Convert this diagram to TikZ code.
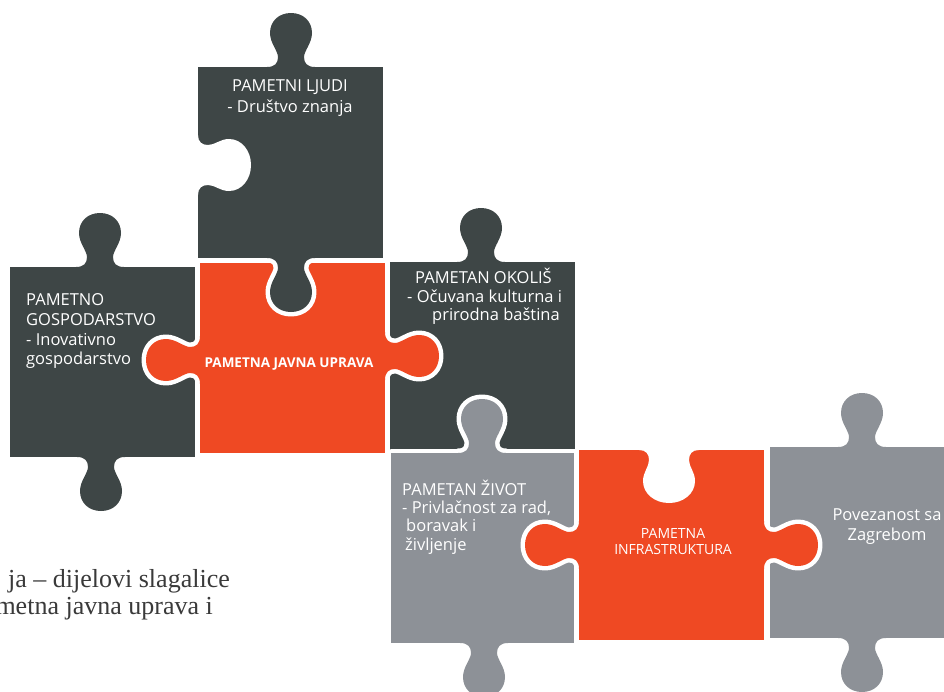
\documentclass[tikz,border=0pt]{standalone}
\usepackage{fontspec}
\newfontfamily\pzsans{Open Sans}
\newfontfamily\pzserif{Liberation Serif}
\definecolor{pzdark}{RGB}{62,70,70}
\definecolor{pzorange}{RGB}{239,73,35}
\definecolor{pzgray}{RGB}{141,145,151}
\definecolor{pzcap}{RGB}{58,58,58}
\newcommand\pzknobpath{(-24,0) .. controls (-16,0) and (-13,4) .. (-13,10) .. controls (-13,16) and (-21,24) .. (-21,34) .. controls (-21,46) and (-12,54) .. (0,54) .. controls (12,54) and (21,46) .. (21,34) .. controls (21,24) and (13,16) .. (13,10) .. controls (13,4) and (16,0) .. (24,0) -- cycle}
\newcommand\pzholepath{(-30,-4) -- (-30,0) .. controls (-23,0) and (-20,4) .. (-20,10) .. controls (-20,17) and (-26,22) .. (-26,31) .. controls (-26,44) and (-14,53) .. (0,53) .. controls (14,53) and (26,44) .. (26,31) .. controls (26,22) and (20,17) .. (20,10) .. controls (20,4) and (23,0) .. (30,0) -- (30,-4) -- cycle}
\newcommand\pzknob[4]{\begin{scope}[shift={(#1,#2)},#3]\path[#4] \pzknobpath;\end{scope}}
\newcommand\pzhole[3]{\begin{scope}[shift={(#1,#2)},#3]\fill[white] \pzholepath;\end{scope}}
\tikzset{
  pzup/.style={x={(1pt,0pt)},y={(0pt,1pt)}},
  pzdown/.style={x={(1pt,0pt)},y={(0pt,-1pt)}},
  pzleft/.style={x={(0pt,1pt)},y={(-1pt,0pt)}},
  pzright/.style={x={(0pt,1pt)},y={(1pt,0pt)}},
  pzline/.style={draw=white, line width=9pt, line join=round},
  pztxt/.style={text=white, inner sep=0pt, font=\pzsans\fontsize{16.5}{20}\selectfont},
  pzcaption/.style={text=pzcap, inner sep=0pt, anchor=base east, font=\pzserif\fontsize{26}{28}\selectfont},
}
\begin{document}
\begin{tikzpicture}[x=1pt,y=-1pt]
\useasboundingbox (0,0) rectangle (944,691);
\fill[white] (0,0) rectangle (944,691);
\begin{scope}
\clip (0,0) rectangle (944,691);
% ---------- C: PAMETNO GOSPODARSTVO ----------
\draw[pzline] (10,267) rectangle (195,457);
\pzknob{100}{267}{pzup}{pzline}
\pzknob{101}{457}{pzdown}{pzline}
\fill[pzdark] (10,267) rectangle (195,457);
\pzknob{100}{267}{pzup}{fill=pzdark}
\pzknob{101}{457}{pzdown}{fill=pzdark}
% ---------- D: PAMETAN OKOLIS ----------
\draw[pzline] (390,262) rectangle (575,450);
\pzknob{481}{262}{pzup}{pzline}
\fill[pzdark] (390,262) rectangle (575,450);
\pzknob{481}{262}{pzup}{fill=pzdark}
% ---------- B: PAMETNA JAVNA UPRAVA ----------
\draw[pzline] (200,263) rectangle (385,453);
\pzknob{200}{360}{pzleft}{pzline}
\pzknob{385}{356}{pzright}{pzline}
\fill[pzorange] (200,263) rectangle (385,453);
\pzknob{200}{360}{pzleft}{fill=pzorange}
\pzknob{385}{356}{pzright}{fill=pzorange}
% ---------- A: PAMETNI LJUDI ----------
\draw[pzline] (198,67) rectangle (383,258);
\pzknob{291}{67}{pzup}{pzline}
\pzknob{291}{258}{pzdown}{pzline}
\fill[pzdark] (198,67) rectangle (383,258);
\pzknob{291}{67}{pzup}{fill=pzdark}
\pzknob{291}{258}{pzdown}{fill=pzdark}
\pzhole{198}{165}{pzright}
% ---------- E: PAMETAN ZIVOT ----------
\draw[pzline] (391,453) rectangle (574,643);
\pzknob{482}{453}{pzup}{pzline}
\pzknob{484}{643}{pzdown}{pzline}
\fill[pzgray] (391,453) rectangle (574,643);
\pzknob{482}{453}{pzup}{fill=pzgray}
\pzknob{484}{643}{pzdown}{fill=pzgray}
% ---------- G: Povezanost sa Zagrebom ----------
\draw[pzline] (770,447) rectangle (970,638);
\pzknob{862}{447}{pzup}{pzline}
\pzknob{862}{638}{pzdown}{pzline}
\fill[pzgray] (770,447) rectangle (970,638);
\pzknob{862}{447}{pzup}{fill=pzgray}
\pzknob{862}{638}{pzdown}{fill=pzgray}
% ---------- F: PAMETNA INFRASTRUKTURA ----------
\draw[pzline] (579,450) rectangle (764,640);
\pzknob{579}{545}{pzleft}{pzline}
\pzknob{764}{545}{pzright}{pzline}
\fill[pzorange] (579,450) rectangle (764,640);
\pzknob{579}{545}{pzleft}{fill=pzorange}
\pzknob{764}{545}{pzright}{fill=pzorange}
\pzhole{669}{450}{pzdown}
% ---------- texts ----------
\node[pztxt, anchor=base] (a1) at (290,91) {PAMETNI LJUDI};
\node[pztxt, anchor=base] (a2) at (290,112) {- Društvo znanja};
\node[pztxt, anchor=base west] (c1) at (26,305) {PAMETNO};
\node[pztxt, anchor=base west] (c2) at (26,325) {GOSPODARSTVO};
\node[pztxt, anchor=base west] (c3) at (26,345) {- Inovativno};
\node[pztxt, anchor=base west] (c4) at (26,364) {gospodarstvo};
\node[pztxt, anchor=base, font=\pzsans\bfseries\fontsize{13.5}{16}\selectfont] (b1) at (289,367) {PAMETNA JAVNA UPRAVA};
\node[pztxt, anchor=base west] (d1) at (415,283) {PAMETAN OKOLIŠ};
\node[pztxt, anchor=base west] (d2) at (407,302) {- Očuvana kulturna i};
\node[pztxt, anchor=base west] (d3) at (432,320) {prirodna baština};
\node[pztxt, anchor=base west] (e1) at (402,495) {PAMETAN ŽIVOT};
\node[pztxt, anchor=base west] (e2) at (402,513) {- Privlačnost za rad,};
\node[pztxt, anchor=base west] (e3) at (406,531) {boravak i};
\node[pztxt, anchor=base west] (e4) at (405,550) {življenje};
\node[pztxt, anchor=base, font=\pzsans\fontsize{14}{16}\selectfont] (f1) at (673,538) {PAMETNA};
\node[pztxt, anchor=base, font=\pzsans\fontsize{14}{16}\selectfont] (f2) at (673,554) {INFRASTRUKTURA};
\node[pztxt, anchor=base] (g1) at (887,520) {Povezanost sa};
\node[pztxt, anchor=base] (g2) at (887,540) {Zagrebom};
\node[pzcaption] (cap1) at (230,587) {ja – dijelovi slagalice};
\node[pzcaption] (cap2) at (213,614) {metna javna uprava i};
\end{scope}
\end{tikzpicture}
\end{document}
